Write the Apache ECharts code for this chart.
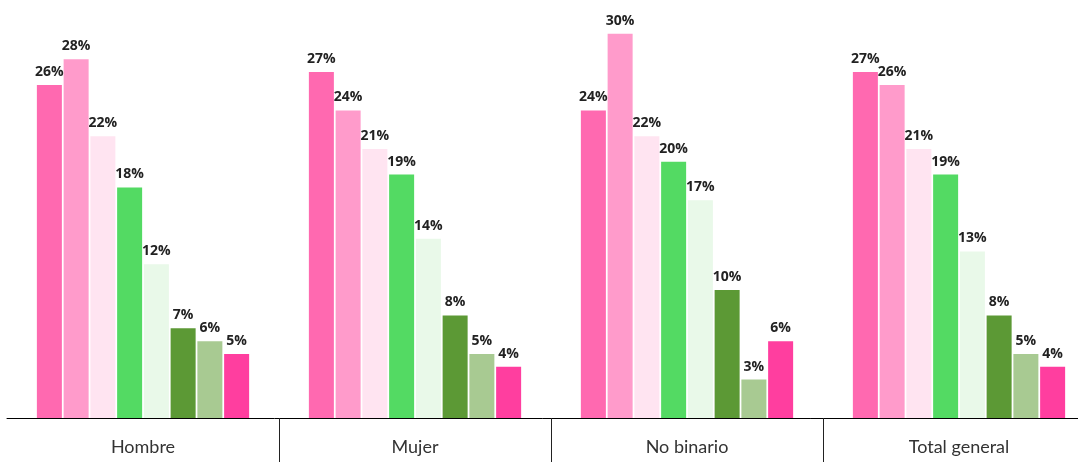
<!DOCTYPE html>
<html>
<head>
<meta charset="utf-8">
<script src="https://cdn.jsdelivr.net/npm/echarts@6/dist/echarts.min.js"></script>
<style>
  html, body { margin: 0; padding: 0; background: #ffffff; }
  #chart { width: 1078px; height: 462px; }
</style>
</head>
<body>
<div id="chart"></div>
<script>
// categorías del eje x
const categorias = ['Hombre', 'Mujer', 'No binario', 'Total general']

// valores (%) por serie, en el orden de las categorías
const serie1 = [26, 27, 24, 27]
const serie2 = [28, 24, 30, 26]
const serie3 = [22, 21, 22, 21]
const serie4 = [18, 19, 20, 19]
const serie5 = [12, 14, 17, 13]
const serie6 = [7, 8, 10, 8]
const serie7 = [6, 5, 3, 5]
const serie8 = [5, 4, 6, 4]

const colores = ['#ff69b0', '#ff9bcb', '#ffe4f1', '#53da63', '#e9f9e9', '#5c9935', '#a8ca92', '#ff3e9f']
const seriesData = [serie1, serie2, serie3, serie4, serie5, serie6, serie7, serie8]

const chart = echarts.init(document.getElementById('chart'))

chart.setOption({
  animation: false,
  grid: {
    left: 7,
    right: -17,
    top: 8,
    bottom: 44,
    outerBoundsMode: 'none',
    containLabel: false,
  },
  xAxis: {
    type: 'category',
    data: categorias,
    axisLine: {
      show: true,
      lineStyle: {
        color: '#000000',
        width: 1,
      },
    },
    axisTick: {
      show: true,
      length: 44,
      interval: function (index) {
        return index > 0
      },
      lineStyle: {
        color: '#222222',
        width: 1,
      },
    },
    axisLabel: {
      color: '#333333',
      fontSize: 18,
      fontFamily: 'Lato',
      margin: 20,
    },
  },
  yAxis: {
    type: 'value',
    min: 0,
    max: 32,
    show: false,
    splitLine: { show: false },
  },
  series: seriesData.map((data, i) => ({
    name: 'serie' + (i + 1),
    type: 'bar',
    data: data,
    barWidth: 25,
    barGap: '7%',
    itemStyle: {
      color: colores[i],
    },
    label: {
      show: true,
      position: 'top',
      distance: 6,
      formatter: '{c}%',
      color: '#222222',
      fontSize: 14,
      fontWeight: 'bold',
      fontFamily: 'Open Sans',
    },
  })),
})
</script>
</body>
</html>
